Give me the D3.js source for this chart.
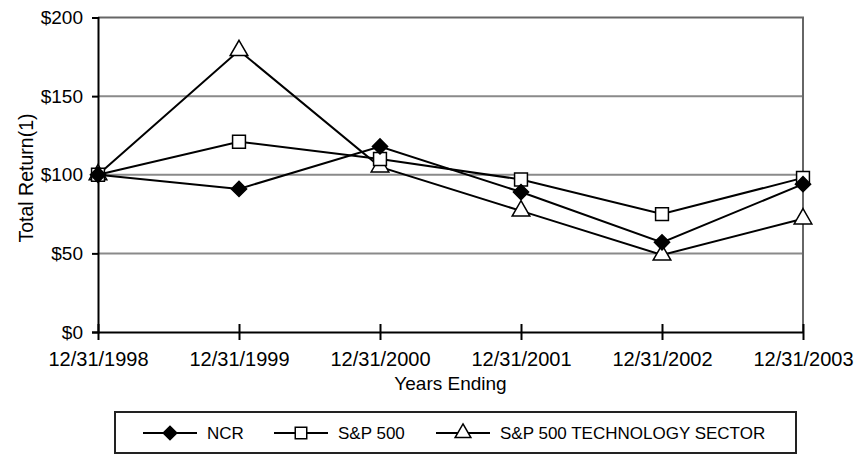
<!DOCTYPE html>
<html>
<head>
<meta charset="utf-8">
<script src="https://cdn.jsdelivr.net/npm/d3@7"></script>
<style>
  body { margin: 0; background: #fff; }
  text { font-family: "Liberation Sans", Arial, sans-serif; fill: #000; }
</style>
</head>
<body>
<div id="chart"></div>
<script>
// Data
const years = ["12/31/1998", "12/31/1999", "12/31/2000", "12/31/2001", "12/31/2002", "12/31/2003"];
const ncr = [100, 91, 118, 89, 57, 94];
const sp500 = [100, 121, 110, 97, 75, 98];
const techSector = [100, 179, 105, 77, 49, 72];
const yTicks = [0, 50, 100, 150, 200];

const series = [
    {name: "S&P 500 TECHNOLOGY SECTOR", values: techSector, symbol: "triangle"},
    {name: "S&P 500", values: sp500, symbol: "square"},
    {name: "NCR", values: ncr, symbol: "diamond"}
];

const width = 859, height = 454;

const svg = d3.select("#chart")
    .append("svg")
    .attr("width", width)
    .attr("height", height);

// Scales
const x = d3.scalePoint()
    .domain(years)
    .range([98, 803]);

const y = d3.scaleLinear()
    .domain([0, 200])
    .range([332, 17.5]);

// Gridlines
svg.append("g")
    .selectAll("line")
    .data(yTicks.filter(d => d > 0 && d < 200))
    .enter()
    .append("line")
    .attr("x1", 98)
    .attr("x2", 803)
    .attr("y1", d => y(d))
    .attr("y2", d => y(d))
    .attr("stroke", "#8a8a8a")
    .attr("stroke-width", 2);

// Top and right border
svg.append("path")
    .attr("d", `M98,${y(200)}H803V${y(0)}`)
    .attr("fill", "none")
    .attr("stroke", "#666")
    .attr("stroke-width", 2);

// Y axis
const yAxis = svg.append("g")
    .attr("transform", "translate(98,0)")
    .call(d3.axisLeft(y).tickValues(yTicks).tickSize(6).tickPadding(9).tickFormat(d => "$" + d));
yAxis.select(".domain").attr("stroke", "#000").attr("stroke-width", 2);
yAxis.selectAll(".tick line").attr("stroke", "#000").attr("stroke-width", 2);
yAxis.selectAll("text")
    .style("font-size", "19px")
    .style("font-family", "'Liberation Sans', Arial, sans-serif")
    .attr("fill", "#000");

// X axis
const xAxis = svg.append("g")
    .attr("transform", `translate(0,${y(0)})`)
    .call(d3.axisBottom(x).tickSizeInner(8).tickSizeOuter(0).tickPadding(12));
xAxis.select(".domain").attr("stroke", "#000").attr("stroke-width", 2);
xAxis.selectAll(".tick line")
    .attr("y1", -8)
    .attr("y2", 8)
    .attr("stroke", "#000")
    .attr("stroke-width", 2);
xAxis.selectAll("text")
    .style("font-size", "20px")
    .style("font-family", "'Liberation Sans', Arial, sans-serif")
    .attr("fill", "#000");

// Axis titles
svg.append("text")
    .attr("x", (98 + 803) / 2)
    .attr("y", 390)
    .attr("text-anchor", "middle")
    .style("font-size", "19px")
    .text("Years Ending");

svg.append("text")
    .attr("transform", "translate(33,178) rotate(-90)")
    .attr("text-anchor", "middle")
    .style("font-size", "19.5px")
    .text("Total Return(1)");

// Symbols
function symbolPath(kind, scale) {
    const k = scale || 1;
    if (kind === "diamond") return d3.symbol(d3.symbolSquare, 115 * k)();
    if (kind === "square") return d3.symbol(d3.symbolSquare, 165 * k)();
    return d3.symbol(d3.symbolTriangle, 135 * k)();
}
function symbolTransform(kind, cx, cy) {
    return kind === "diamond" ? `translate(${cx},${cy}) rotate(45)` : `translate(${cx},${cy})`;
}

const line = d3.line()
    .x((d, i) => x(years[i]))
    .y(d => y(d));

// Lines
series.forEach(s => {
    svg.append("path")
        .datum(s.values)
        .attr("d", line)
        .attr("fill", "none")
        .attr("stroke", "#000")
        .attr("stroke-width", 2);
});

// Markers
series.forEach(s => {
    svg.append("g")
        .selectAll("path")
        .data(s.values)
        .enter()
        .append("path")
        .attr("d", symbolPath(s.symbol))
        .attr("transform", (d, i) => symbolTransform(s.symbol, x(years[i]), y(d)))
        .attr("fill", s.symbol === "diamond" ? "#000" : "#fff")
        .attr("stroke", "#000")
        .attr("stroke-width", 1.5);
});

// Legend
const legend = svg.append("g");
legend.append("rect")
    .attr("x", 115)
    .attr("y", 412)
    .attr("width", 681)
    .attr("height", 41)
    .attr("fill", "#fff")
    .attr("stroke", "#222")
    .attr("stroke-width", 2);

const legendItems = [
    {name: "NCR", symbol: "diamond", cx: 170},
    {name: "S&P 500", symbol: "square", cx: 301},
    {name: "S&P 500 TECHNOLOGY SECTOR", symbol: "triangle", cx: 463}
];
legendItems.forEach(it => {
    const g = legend.append("g");
    g.append("line")
        .attr("x1", it.cx - 27)
        .attr("x2", it.cx + 27)
        .attr("y1", 433)
        .attr("y2", 433)
        .attr("stroke", "#000")
        .attr("stroke-width", 2);
    g.append("path")
        .attr("d", symbolPath(it.symbol, 0.8))
        .attr("transform", symbolTransform(it.symbol, it.cx, 433))
        .attr("fill", it.symbol === "diamond" ? "#000" : "#fff")
        .attr("stroke", "#000")
        .attr("stroke-width", 1.5);
    g.append("text")
        .attr("x", it.cx + 37)
        .attr("y", 433)
        .attr("dy", "0.35em")
        .style("font-size", "17px")
        .text(it.name);
});
</script>
</body>
</html>
